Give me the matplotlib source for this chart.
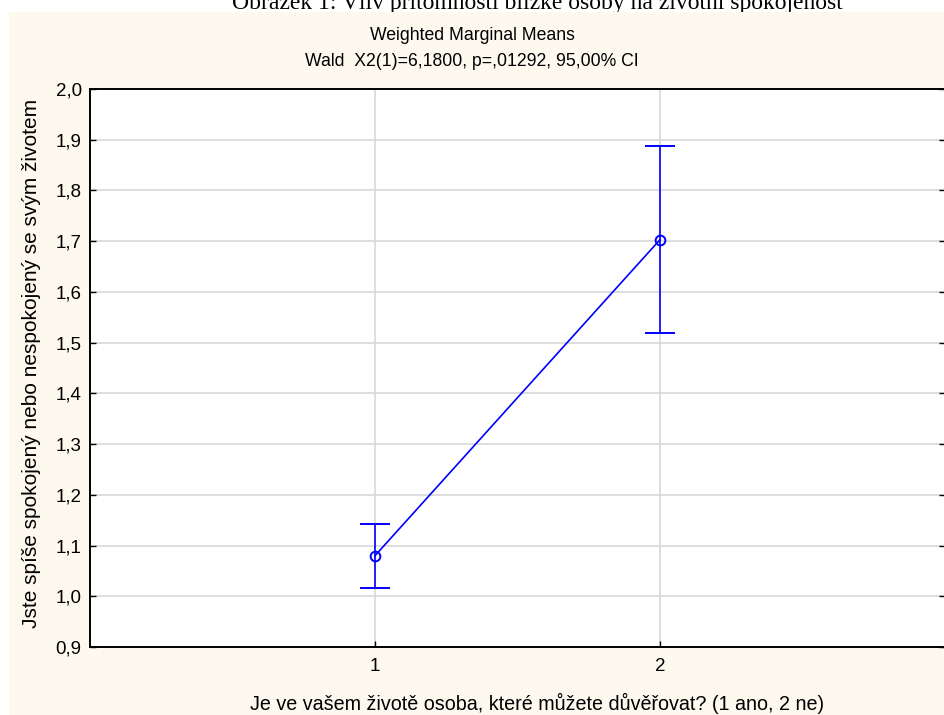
import matplotlib.pyplot as plt
from matplotlib.patches import Rectangle
from matplotlib.ticker import FuncFormatter

plt.rcParams['font.family'] = ['Liberation Sans', 'DejaVu Sans']

# means and 95% CI
groups = [1, 2]
means = [1.080, 1.703]
ci_low = [1.016, 1.519]
ci_high = [1.143, 1.887]
y_ticks = [0.9, 1.0, 1.1, 1.2, 1.3, 1.4, 1.5, 1.6, 1.7, 1.8, 1.9, 2.0]

caption = "Obrázek 1: Vliv přítomnosti blízké osoby na životní spokojenost"
title1 = "Weighted Marginal Means"
title2 = "Wald  X2(1)=6,1800, p=,01292, 95,00% CI"
y_label = "Jste spíše spokojený nebo nespokojený se svým životem"
x_label = "Je ve vašem životě osoba, které můžete důvěřovat? (1 ano, 2 ne)"

W, H = 944, 715
fig = plt.figure(figsize=(W / 100, H / 100), dpi=100, facecolor='white')

# caption of the document, mostly cut off by the chart background
fig.text(537 / W, 1 - 9 / H, caption, ha='center', va='baseline',
         fontsize=17, family='Liberation Serif', zorder=-2)
fig.patches.append(Rectangle((9 / W, 0), 1, 1 - 12 / H, transform=fig.transFigure,
                             facecolor='#fef9ef', edgecolor='none', zorder=-1))

ax = fig.add_axes([90 / W, 68 / H, 855 / W, 558 / H])
ax.set_facecolor('white')

err_low = [m - l for m, l in zip(means, ci_low)]
err_high = [h - m for m, h in zip(means, ci_high)]
ax.errorbar(groups, means, yerr=[err_low, err_high], color='#0000ff', lw=1.2,
            marker='o', ms=7, mfc='none', mec='#0000ff', mew=1.4,
            capsize=10.5, capthick=1.2, elinewidth=1.2, zorder=3)

ax.set_xlim(0, 3)
ax.set_ylim(0.9, 2.0)
ax.set_xticks(groups)
ax.set_yticks(y_ticks)
ax.yaxis.set_major_formatter(FuncFormatter(lambda v, p: f"{v:.1f}".replace('.', ',')))
ax.grid(True, color='#d8d8d8', lw=1.2)
ax.set_axisbelow(True)

ax.tick_params(direction='in', length=4, width=1, labelsize=13.5, colors='black',
               right=True, pad=6)
ax.tick_params(axis='x', pad=8)
for side in ['left', 'bottom', 'top']:
    ax.spines[side].set_linewidth(1.4)
ax.spines['right'].set_visible(False)

fig.text(472 / W, 1 - 36 / H, title1, ha='center', va='center', fontsize=12.7)
fig.text(472 / W, 1 - 62 / H, title2, ha='center', va='center', fontsize=12.7)
fig.text(32 / W, 1 - 363 / H, y_label, ha='center', va='center',
         rotation=90, fontsize=15)
fig.text(537 / W, 1 - 703 / H, x_label, ha='center', va='center', fontsize=14.2)

fig.savefig('out.png', dpi=100)
